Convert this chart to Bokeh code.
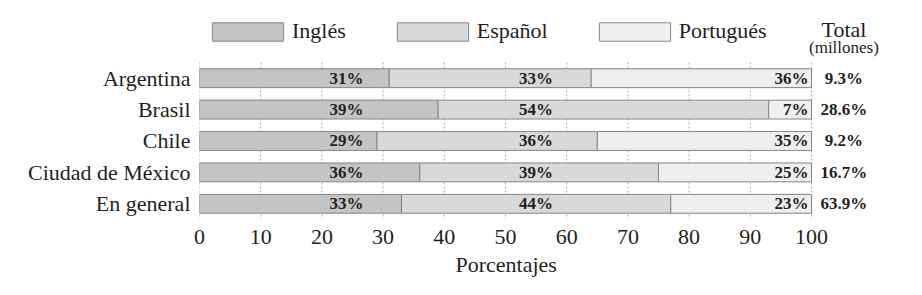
from bokeh.plotting import figure
from bokeh.models import (ColumnDataSource, Range1d, Legend, LegendItem,
                          LabelSet, Label, FixedTicker, Title)
from bokeh.embed import file_html
from bokeh.resources import INLINE

# ---- data ----
categories = ["Argentina", "Brasil", "Chile", "Ciudad de México", "En general"]
ingles = [31, 39, 29, 36, 33]
espanol = [33, 54, 36, 39, 44]
portugues = [36, 7, 35, 25, 23]
totals = [9.3, 28.6, 9.2, 16.7, 63.9]
languages = ["Inglés", "Español", "Portugués"]
x_ticks = list(range(0, 101, 10))

# ---- style ----
SERIF = "Liberation Serif"
TEXT = "#231f20"
colors = ["#c4c4c4", "#d9d9d9", "#efefef"]
keys = ["ing", "esp", "por"]

rows = list(range(len(categories)))
source = ColumnDataSource(dict(
    row=rows, cat=categories,
    ing=ingles, esp=espanol, por=portugues,
    ing_t=[f"{v}%" for v in ingles],
    esp_t=[f"{v}%" for v in espanol],
    por_t=[f"{v}%" for v in portugues],
    tot_t=[f"{v}%" for v in totals],
))

n = len(categories)
# frame: 199..912 px wide (0..100 -> 199..811), 5..219 px tall
p = figure(width=922, height=295, output_backend="svg", toolbar_location=None,
           x_range=Range1d(0, 116.5), y_range=Range1d(n - 0.5, -2.315),
           min_border_left=199, min_border_right=10, min_border_top=5,
           min_border_bottom=76)
p.outline_line_color = None
p.grid.grid_line_color = None

# dotted vertical grid over the bar band only
p.segment(x0=x_ticks, y0=-0.5, x1=x_ticks, y1=n - 0.5, line_color="#a8a8a8",
          line_dash="2 2", line_width=1)

rs = p.hbar_stack(keys, y="row", height=0.6, color=colors, source=source,
                  line_color="#858585", line_width=1)

# axes
p.xaxis.ticker = FixedTicker(ticks=x_ticks)
p.xaxis.axis_line_color = None
p.xaxis.major_tick_line_color = None
p.xaxis.minor_tick_line_color = None
p.xaxis.major_label_text_font = SERIF
p.xaxis.major_label_text_font_size = "22px"
p.xaxis.major_label_text_color = TEXT
p.xaxis.major_label_standoff = 4

# axis title, centred under the 0..100 band
p.add_layout(Title(text="Porcentajes", align="left", offset=256,
                   text_font=SERIF, text_font_size="22px", text_font_style="normal",
                   text_color=TEXT, standoff=6), "below")

p.yaxis.ticker = FixedTicker(ticks=rows)
p.yaxis.major_label_overrides = {i: c for i, c in zip(rows, categories)}
p.yaxis.axis_line_color = None
p.yaxis.major_tick_line_color = None
p.yaxis.minor_tick_line_color = None
p.yaxis.major_label_text_font = SERIF
p.yaxis.major_label_text_font_size = "22px"
p.yaxis.major_label_text_color = TEXT
p.yaxis.major_label_standoff = 3

# bar labels
lab_common = dict(y="row", source=source, text_font=SERIF, text_font_size="17px",
                  text_font_style="bold", text_color=TEXT, text_baseline="middle")
p.add_layout(LabelSet(x=26.8, text="ing_t", text_align="right", **lab_common))
p.add_layout(LabelSet(x=52.2, text="esp_t", text_align="left", **lab_common))
p.add_layout(LabelSet(x=99.5, text="por_t", text_align="right", **lab_common))

# totals column
p.add_layout(LabelSet(x=105.3, text="tot_t", text_align="center", **lab_common))
p.add_layout(Label(x=105.3, y=-1.55, text="Total", text_font=SERIF,
                   text_font_size="22px", text_color=TEXT, text_align="center",
                   text_baseline="middle"))
p.add_layout(Label(x=105.3, y=-0.99, text="(millones)", text_font=SERIF,
                   text_font_size="17px", text_color=TEXT, text_align="center",
                   text_baseline="middle"))

# legend
legend = Legend(items=[LegendItem(label=l, renderers=[r]) for l, r in zip(languages, rs)],
                orientation="horizontal", location=(4, 175),
                glyph_width=89, glyph_height=23, spacing=42, label_standoff=0,
                padding=0, margin=0, border_line_alpha=0, background_fill_alpha=0,
                label_text_font=SERIF, label_text_font_size="22px",
                label_text_color=TEXT)
p.add_layout(legend, "center")

open("out.html", "w").write(file_html(p, INLINE))
